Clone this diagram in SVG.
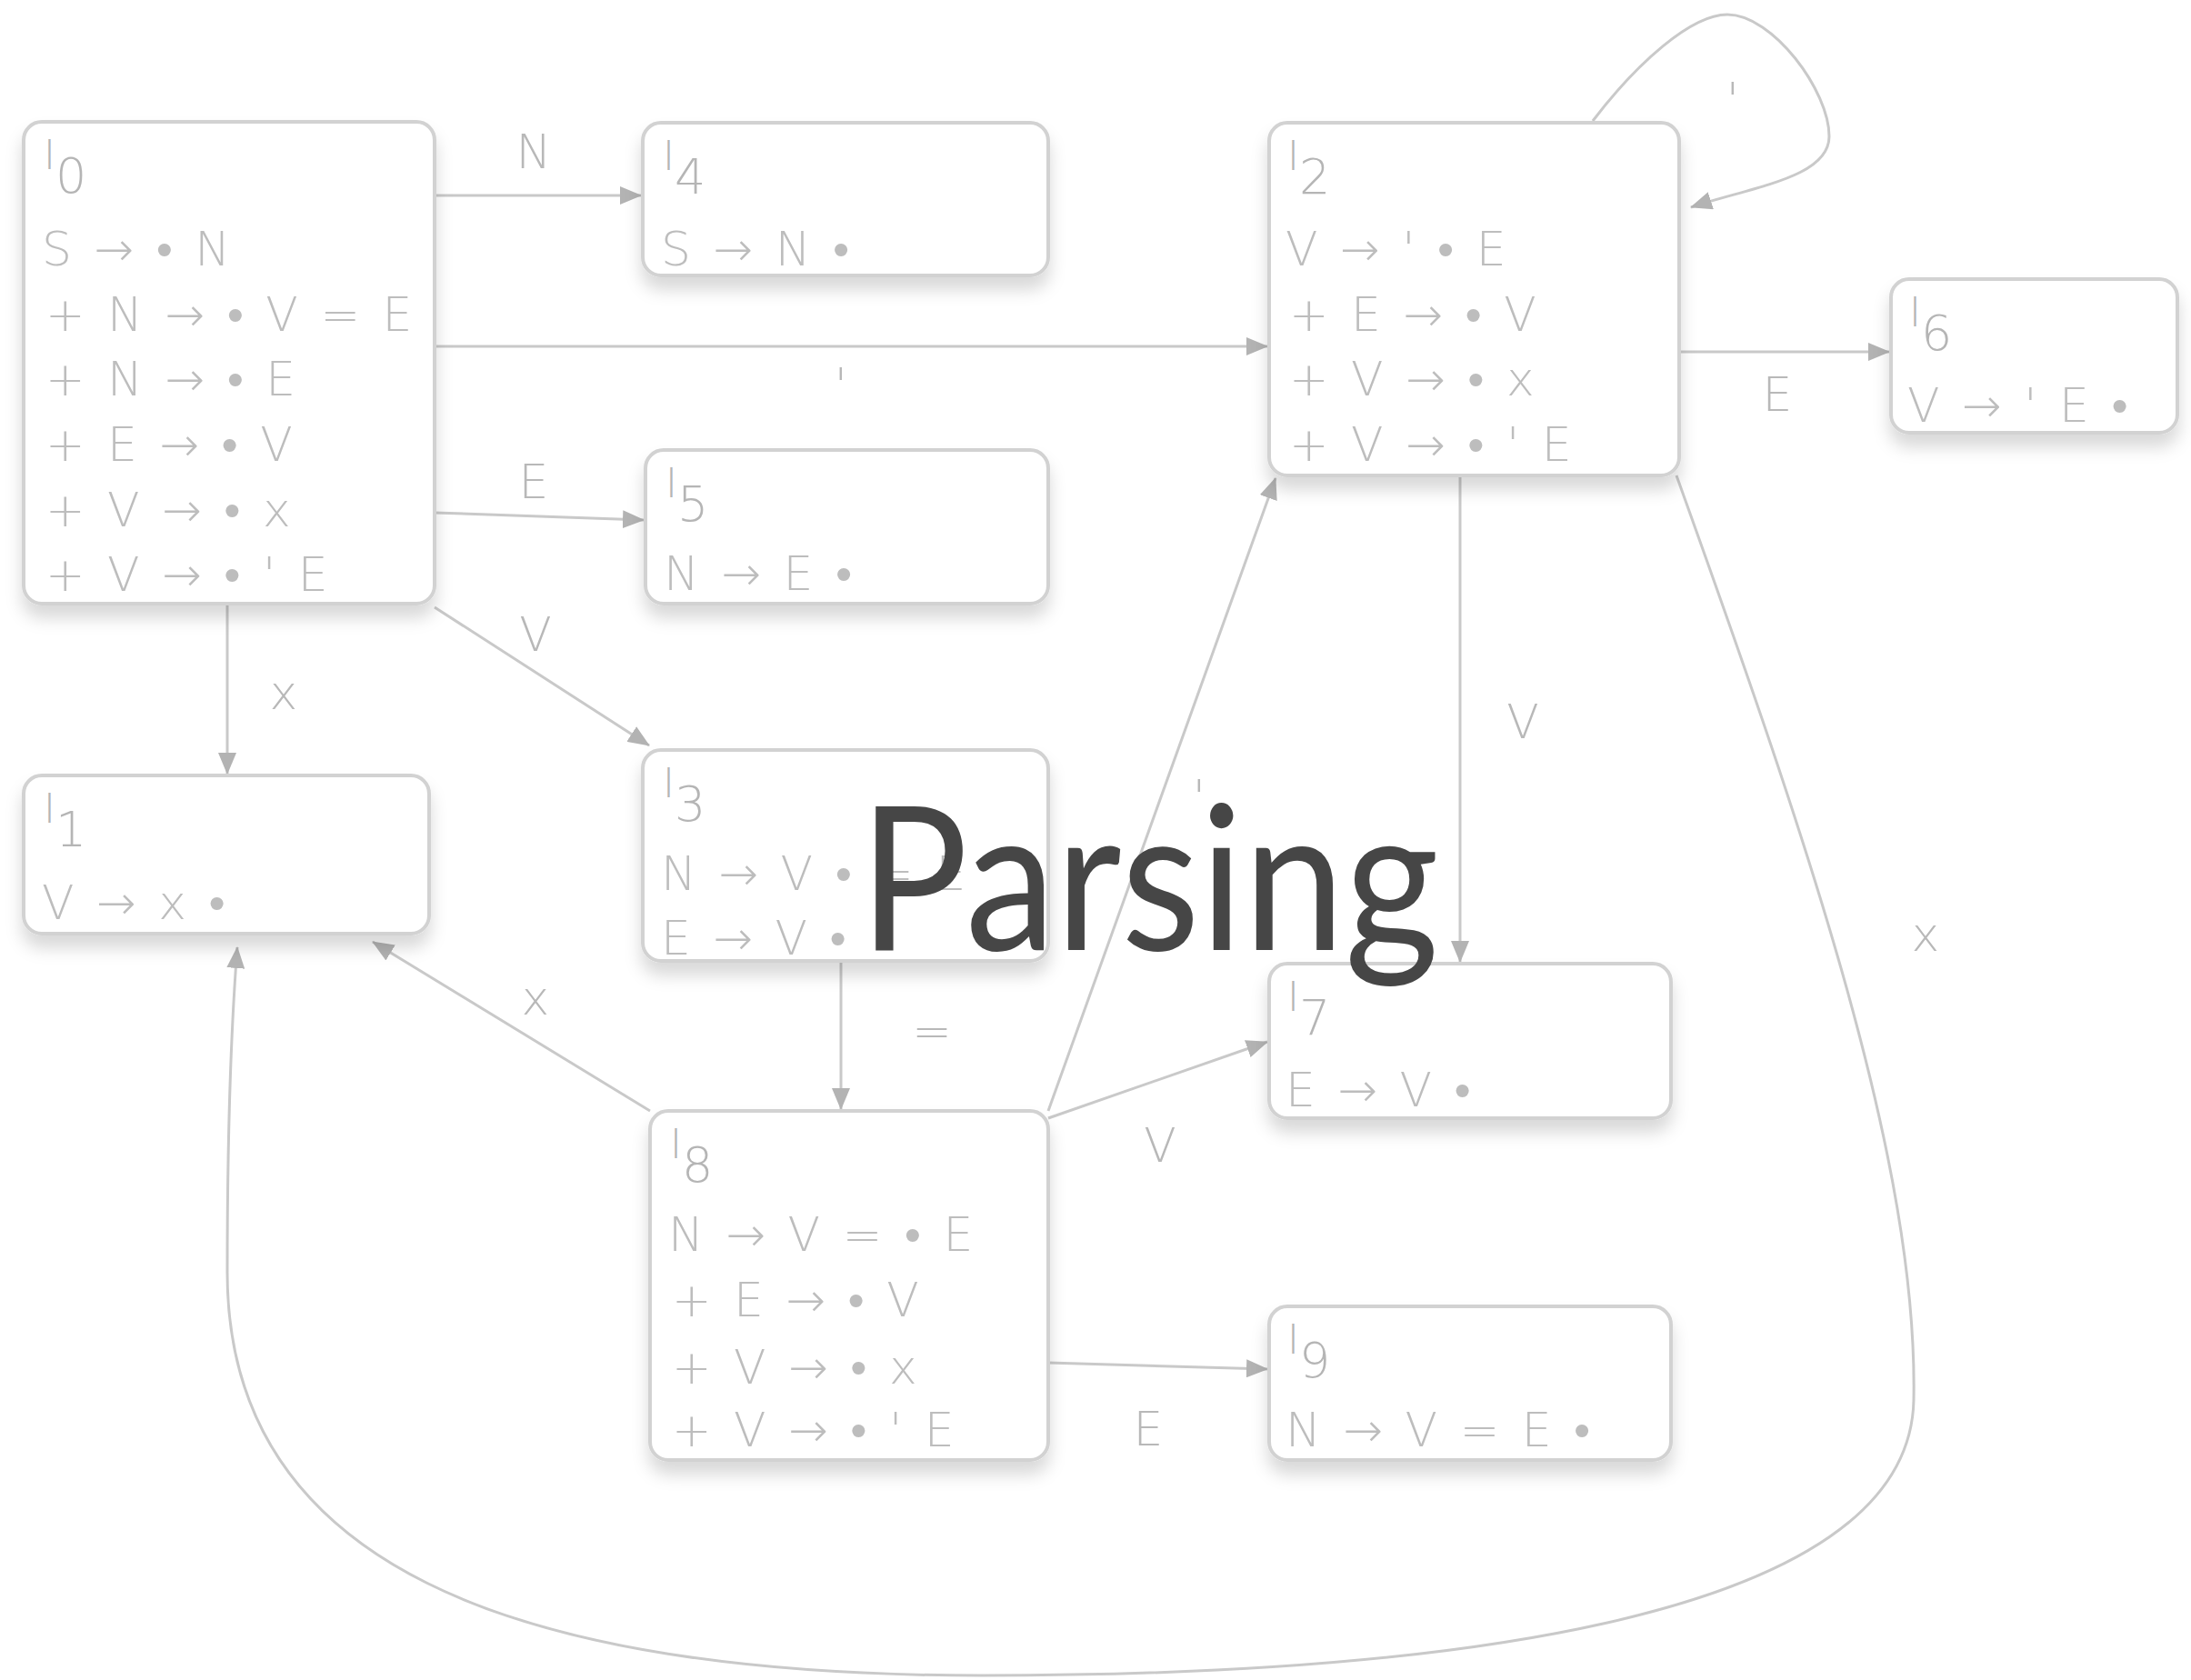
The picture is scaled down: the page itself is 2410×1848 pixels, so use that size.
<svg xmlns="http://www.w3.org/2000/svg" width="2410" height="1848" viewBox="0 0 2410 1848">
<style>
.box{fill:#ffffff;stroke:#d2d2d2;stroke-width:4}
.t{font-family:"DejaVu Sans","Liberation Sans",sans-serif;font-stretch:condensed;font-weight:300;font-size:52px;fill:#bdbdbd;word-spacing:8px}
.ti{font-family:"DejaVu Sans","Liberation Sans",sans-serif;font-stretch:condensed;font-weight:300;font-size:44px;fill:#b5b5b5}
.sub{font-size:54px}
.lbl{font-family:"DejaVu Sans","Liberation Sans",sans-serif;font-stretch:condensed;font-weight:300;font-size:52px;fill:#b8b8b8;text-anchor:middle}
.e{fill:none;stroke:#c9c9c9;stroke-width:3}
.title{font-family:Lato,"Open Sans",sans-serif;font-size:222px;fill:#464646}
</style>
<defs>
<filter id="sh" x="-10%" y="-10%" width="120%" height="140%">
<feDropShadow dx="0" dy="14" stdDeviation="9" flood-color="#000" flood-opacity="0.15"/>
</filter>
<marker id="a" viewBox="0 0 24 20" refX="23" refY="10" markerWidth="24" markerHeight="20" markerUnits="userSpaceOnUse" orient="auto">
<path d="M0,0 L24,10 L0,20 Z" fill="#b3b3b3"/>
</marker>
</defs>

<g id="connectors">
<path class="e" marker-end="url(#a)" d="M478,215 L705,215"/>
<path class="e" marker-end="url(#a)" d="M478,381 L1394,381"/>
<path class="e" marker-end="url(#a)" d="M478,564 L708,572"/>
<path class="e" marker-end="url(#a)" d="M478,668 L714,820"/>
<path class="e" marker-end="url(#a)" d="M250,664 L250,851"/>
<path class="e" marker-end="url(#a)" d="M1752,133 C1800,70 1860,16 1900,16 C1950,16 2012,100 2012,150 C2012,195 1930,205 1860,228"/>
<path class="e" marker-end="url(#a)" d="M1847,387 L2078,387"/>
<path class="e" marker-end="url(#a)" d="M1606,523 L1606,1058"/>
<path class="e" marker-end="url(#a)" d="M1844,523 C1990,930 2110,1280 2105,1540 C2100,1790 1550,1843 1080,1843 C560,1843 250,1720 250,1400 C250,1230 255,1120 261,1042"/>
<path class="e" marker-end="url(#a)" d="M925,1057 L925,1220"/>
<path class="e" marker-end="url(#a)" d="M715,1222 L410,1036"/>
<path class="e" marker-end="url(#a)" d="M1153,1222 L1403,526"/>
<path class="e" marker-end="url(#a)" d="M1153,1230 L1394,1146"/>
<path class="e" marker-end="url(#a)" d="M1153,1499 L1394,1506"/>
<text class="lbl" x="587" y="185">N</text>
<text class="lbl" x="925" y="442">'</text>
<text class="lbl" x="587" y="548">E</text>
<text class="lbl" x="589" y="716">V</text>
<text class="lbl" x="312" y="780">x</text>
<text class="lbl" x="1906" y="128">'</text>
<text class="lbl" x="1955" y="452">E</text>
<text class="lbl" x="1675" y="812">V</text>
<text class="lbl" x="2118" y="1046">x</text>
<text class="lbl" x="1025" y="1152">=</text>
<text class="lbl" x="589" y="1116">x</text>
<text class="lbl" x="1319" y="895">'</text>
<text class="lbl" x="1276" y="1278">V</text>
<text class="lbl" x="1263" y="1590">E</text>
</g>

<g id="I0">
<rect class="box" filter="url(#sh)" x="26" y="134" width="452" height="530" rx="20"/>
<text class="ti" x="48" y="186">I<tspan class="sub" dy="26">0</tspan></text>
<text class="t" x="46" y="292">S → • N</text>
<text class="t" x="50" y="364">+ N → • V = E</text>
<text class="t" x="50" y="435">+ N → • E</text>
<text class="t" x="50" y="507">+ E → • V</text>
<text class="t" x="50" y="579">+ V → • x</text>
<text class="t" x="50" y="650">+ V → • ' E</text>
</g>

<g id="I4">
<rect class="box" filter="url(#sh)" x="707" y="135" width="446" height="168" rx="20"/>
<text class="ti" x="729" y="187">I<tspan class="sub" dy="26">4</tspan></text>
<text class="t" x="727" y="292">S → N •</text>
</g>

<g id="I5">
<rect class="box" filter="url(#sh)" x="710" y="495" width="443" height="169" rx="20"/>
<text class="ti" x="732" y="547">I<tspan class="sub" dy="26">5</tspan></text>
<text class="t" x="730" y="649">N → E •</text>
</g>

<g id="I2">
<rect class="box" filter="url(#sh)" x="1396" y="135" width="451" height="388" rx="20"/>
<text class="ti" x="1416" y="187">I<tspan class="sub" dy="26">2</tspan></text>
<text class="t" x="1414" y="292">V → ' • E</text>
<text class="t" x="1418" y="364">+ E → • V</text>
<text class="t" x="1418" y="435">+ V → • x</text>
<text class="t" x="1418" y="507">+ V → • ' E</text>
</g>

<g id="I6">
<rect class="box" filter="url(#sh)" x="2080" y="307" width="315" height="169" rx="20"/>
<text class="ti" x="2100" y="359">I<tspan class="sub" dy="26">6</tspan></text>
<text class="t" x="2098" y="464">V → ' E •</text>
</g>

<g id="I1">
<rect class="box" filter="url(#sh)" x="26" y="853" width="446" height="174" rx="20"/>
<text class="ti" x="48" y="905">I<tspan class="sub" dy="26">1</tspan></text>
<text class="t" x="46" y="1011">V → x •</text>
</g>

<g id="I3">
<rect class="box" filter="url(#sh)" x="707" y="825" width="446" height="232" rx="20"/>
<text class="ti" x="729" y="877">I<tspan class="sub" dy="26">3</tspan></text>
<text class="t" x="727" y="979">N → V • = E</text>
<text class="t" x="727" y="1050">E → V •</text>
</g>

<g id="I7">
<rect class="box" filter="url(#sh)" x="1396" y="1060" width="442" height="170" rx="20"/>
<text class="ti" x="1416" y="1112">I<tspan class="sub" dy="26">7</tspan></text>
<text class="t" x="1414" y="1217">E → V •</text>
</g>

<g id="I8">
<rect class="box" filter="url(#sh)" x="715" y="1222" width="438" height="384" rx="20"/>
<text class="ti" x="737" y="1274">I<tspan class="sub" dy="26">8</tspan></text>
<text class="t" x="735" y="1376">N → V = • E</text>
<text class="t" x="739" y="1448">+ E → • V</text>
<text class="t" x="739" y="1522">+ V → • x</text>
<text class="t" x="739" y="1591">+ V → • ' E</text>
</g>

<g id="I9">
<rect class="box" filter="url(#sh)" x="1396" y="1437" width="442" height="169" rx="20"/>
<text class="ti" x="1416" y="1489">I<tspan class="sub" dy="26">9</tspan></text>
<text class="t" x="1414" y="1591">N → V = E •</text>
</g>

<g id="title">
<text class="title" x="945" y="1045" textLength="638" lengthAdjust="spacingAndGlyphs">Parsing</text>
</g>
</svg>
